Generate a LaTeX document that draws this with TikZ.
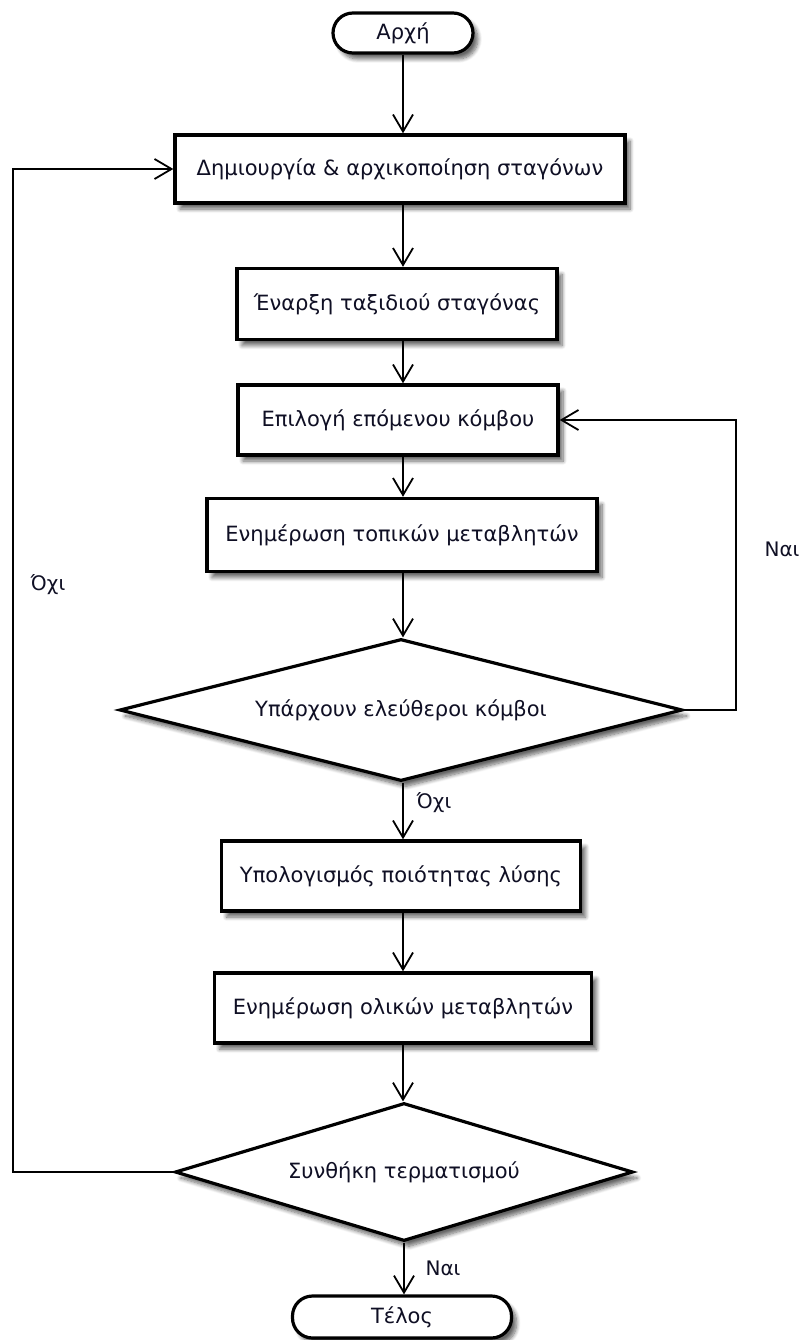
\documentclass[tikz,border=0pt]{standalone}
\usepackage{fontspec}
\setmainfont{DejaVu Sans}
\usetikzlibrary{shapes.geometric,arrows.meta,shadows.blur}
\definecolor{txt}{rgb}{0.06,0.06,0.14}
\tikzset{
  shd/.style={blur shadow={shadow xshift=5pt,shadow yshift=-6pt,shadow blur radius=4pt,shadow blur steps=8,shadow opacity=60}},
  procbox/.style={draw=black,line width=3.4pt,fill=white,shd,rectangle,inner sep=0pt,text=txt,font=\fontsize{21}{24}\selectfont},
  termbox/.style={draw=black,line width=3.2pt,fill=white,shd,rectangle,rounded corners=20pt,inner sep=0pt,text=txt,font=\fontsize{21}{24}\selectfont},
  decbox/.style={draw=black,line width=3.2pt,fill=white,shd,diamond,inner sep=0pt,text=txt,font=\fontsize{21}{24}\selectfont},
  arr/.style={line width=2.7pt,-{Straight Barb[length=17pt,width=20pt,line width=1.8pt]}},
  lbl/.style={text=txt,font=\fontsize{20}{23}\selectfont,inner sep=0pt}
}
\begin{document}
\begin{tikzpicture}[x=1pt,y=-1pt]
\useasboundingbox (0,0) rectangle (799,1340);
\node[termbox,minimum width=140pt,minimum height=40pt] (start) at (403,33) {Αρχή};
\node[procbox,minimum width=450pt,minimum height=68pt] (b1) at (400,169) {Δημιουργία \& αρχικοποίηση σταγόνων};
\node[procbox,minimum width=320pt,minimum height=71pt] (b2) at (397,304) {Έναρξη ταξιδιού σταγόνας};
\node[procbox,minimum width=320pt,minimum height=70pt] (b3) at (398,420) {Επιλογή επόμενου κόμβου};
\node[procbox,minimum width=390pt,minimum height=73pt] (b4) at (402,535) {Ενημέρωση τοπικών μεταβλητών};
\node[decbox,minimum width=563pt,minimum height=142pt,aspect=4] (d1) at (401,710) {Υπάρχουν ελεύθεροι κόμβοι};
\node[procbox,minimum width=359pt,minimum height=70pt] (b5) at (401,876) {Υπολογισμός ποιότητας λύσης};
\node[procbox,minimum width=377pt,minimum height=70pt] (b6) at (403,1008) {Ενημέρωση ολικών μεταβλητών};
\node[decbox,minimum width=458pt,minimum height=138pt,aspect=3.3] (d2) at (404,1172) {Συνθήκη τερματισμού};
\node[termbox,minimum width=219pt,minimum height=42pt] (end) at (402,1317) {Τέλος};

\coordinate (L) at (13,0);
\coordinate (R) at (736,0);

\draw[arr] (start) -- (start|-b1.north);
\draw[arr] (b1.south-|start) -- (b2.north-|start);
\draw[arr] (b2.south-|start) -- (b3.north-|start);
\draw[arr] (b3.south-|start) -- (b4.north-|start);
\draw[arr] (b4.south-|start) -- (d1.north-|start);
\draw[arr] (d1.east) -- (d1.east-|R) -- (b3.east-|R) -- (b3.east);
\draw[arr] (d1.south-|start) -- (b5.north-|start);
\draw[arr] (b5.south-|start) -- (b6.north-|start);
\draw[arr] (b6.south-|start) -- (d2.north-|start);
\draw[arr] (d2.west) -- (d2.west-|L) -- (b1.west-|L) -- (b1.west);
\draw[arr] (d2.south) -- (end.north-|d2.south);

\node[lbl] (nai1) at (782,549) {Ναι};
\node[lbl] (ochi1) at (434,803) {Όχι};
\node[lbl] (ochi2) at (48,585) {Όχι};
\node[lbl] (nai2) at (443,1268) {Ναι};
\end{tikzpicture}
\end{document}
